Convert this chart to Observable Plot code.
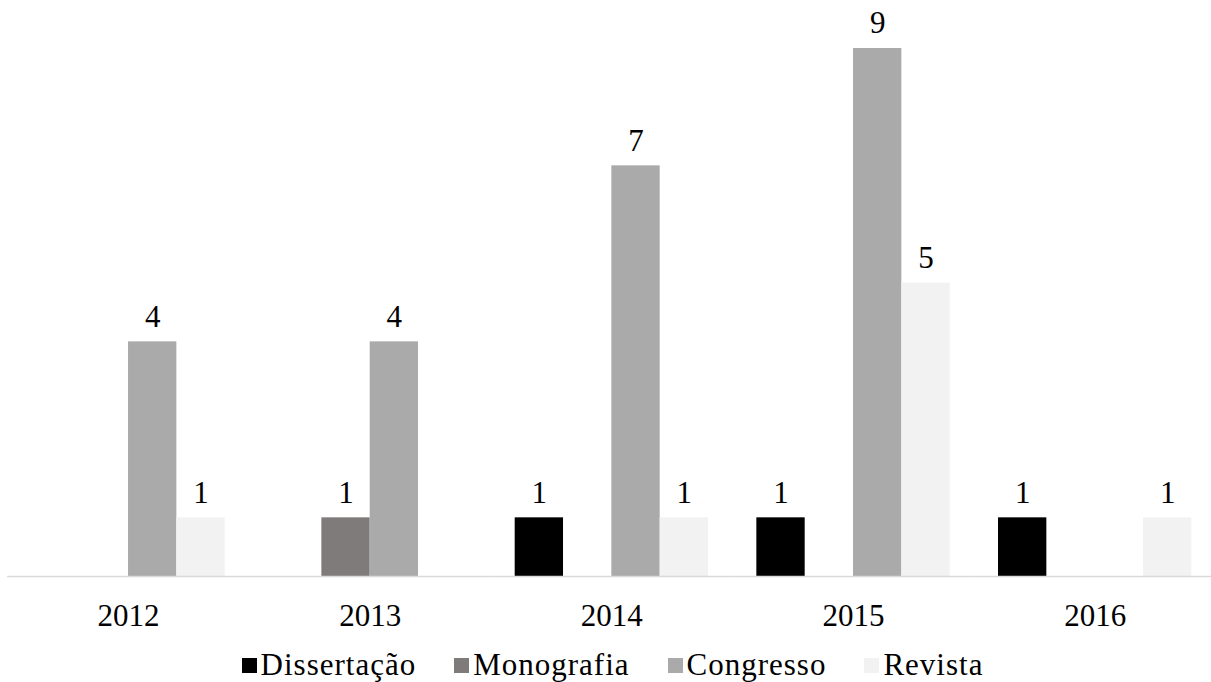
<!DOCTYPE html>
<html>
<head>
<meta charset="utf-8">
<script src="https://cdn.jsdelivr.net/npm/d3@7"></script>
<script src="https://cdn.jsdelivr.net/npm/@observablehq/plot@0.6"></script>
<style>
  html, body { margin: 0; padding: 0; background: #fff; font-family: "Liberation Serif", serif; }
  #chart { width: 1211px; }
  .legend { display: flex; justify-content: center; align-items: center; height: 42px; padding-top: 4px;
    font-family: "Liberation Serif", serif; font-size: 31px; letter-spacing: 1px; color: #000; padding-left: 14px; }
  .legend .item { display: flex; align-items: center; margin: 0 19px; }
  .legend .sw { width: 15px; height: 15px; margin-right: 4px; display: inline-block; }
  #preload { position: absolute; left: 0; top: 0; font-family: "Liberation Serif", serif; font-size: 30px; color: #fff; opacity: 0.01; }
</style>
</head>
<body>
<div id="preload">Dissertação Monografia Congresso Revista 2012</div>
<div id="chart"></div>
<script>
const years = ["2012", "2013", "2014", "2015", "2016"];
const series = ["Dissertação", "Monografia", "Congresso", "Revista"];
const colors = ["#000000", "#7f7b7b", "#aaaaaa", "#f2f2f2"];
const dissertacao = [0, 0, 1, 1, 1];
const monografia = [0, 1, 0, 0, 0];
const congresso = [4, 4, 7, 9, 0];
const revista = [1, 0, 1, 5, 1];

const values = [dissertacao, monografia, congresso, revista];
const rows = [];
years.forEach((y, i) => {
  series.forEach((s, j) => rows.push({year: y, series: s, value: values[j][i]}));
});

const FONT = "'Liberation Serif', serif";
const W = 1211, H = 640;
const plot = Plot.plot({
  width: W,
  height: H,
  marginTop: 48,
  marginBottom: 64,
  marginLeft: 7,
  marginRight: 0,
  style: {fontFamily: FONT, fontSize: "31px", background: "#fff", color: "#000"},
  facet: {data: rows, x: "year"},
  fx: {domain: years, range: [7.2, 1215.5], padding: 0, round: false, axis: "bottom", tickSize: 0, tickPadding: 27, label: null},
  x: {domain: series, paddingInner: 0, paddingOuter: 0.5, round: false, axis: null},
  y: {domain: [0, 9], axis: null},
  color: {domain: series, range: colors},
  marks: [
    Plot.barY(rows, {x: "series", y: "value", fill: "series", filter: d => d.value > 0}),
    Plot.ruleY([0], {stroke: "#d9d9d9", strokeWidth: 1.3}),
    Plot.text(rows, {x: "series", y: "value", text: d => String(d.value), dy: -25, fill: "#000", filter: d => d.value > 0})
  ]
});
document.getElementById("chart").appendChild(plot);

const legend = document.createElement("div");
legend.className = "legend";
series.forEach((s, j) => {
  const item = document.createElement("span");
  item.className = "item";
  const sw = document.createElement("span");
  sw.className = "sw";
  sw.style.background = colors[j];
  item.appendChild(sw);
  item.appendChild(document.createTextNode(s));
  legend.appendChild(item);
});
document.getElementById("chart").appendChild(legend);
</script>
</body>
</html>
